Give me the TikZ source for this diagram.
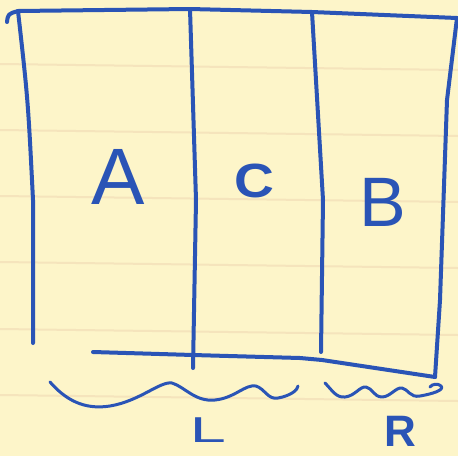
\documentclass[tikz,border=0pt]{standalone}
\usepackage{fontspec}
\setmainfont{Liberation Sans}
\definecolor{paper}{RGB}{253,245,201}
\definecolor{rule}{RGB}{245,228,188}
\definecolor{ink}{RGB}{42,84,182}
\begin{document}
\begin{tikzpicture}[x=1pt,y=-1pt,
  pen/.style={draw=ink,line width=4pt,line cap=round,line join=round},
  thinpen/.style={draw=ink,line width=3pt,line cap=round,line join=round},
  lbl/.style={text=ink,inner sep=0pt,anchor=center}]
\fill[paper] (0,0) rectangle (458,456);
\useasboundingbox (0,0) rectangle (458,456);
\foreach \yy in {64,130,196,262,329,395} \draw[rule,line width=2pt] (0,\yy) -- (458,\yy+6);
% frame
\draw[pen] (7,22) .. controls (8,14) .. (18,11) -- (190,9) -- (312,12) -- (457,18);
\draw[pen] (18,11) .. controls (28,100) .. (33,200) -- (33,343);
\draw[pen] (190,9) -- (196,200) -- (193,368);
\draw[pen] (312,12) -- (323,200) -- (321,352);
\draw[pen] (457,18) -- (447,100) -- (440,300) -- (435,377);
\draw[pen] (93,352) -- (193,355) -- (300,358) -- (322,360) -- (435,377);
% braces
\draw[thinpen] (50,382) .. controls (70,405) and (90,409) .. (110,406)
  .. controls (140,401) and (160,381) .. (172,383)
  .. controls (185,387) and (195,402) .. (215,400)
  .. controls (235,398) and (245,384) .. (256,386)
  .. controls (265,389) and (268,400) .. (278,398)
  .. controls (290,396) and (298,390) .. (298,386);
\draw[thinpen] (325,383) .. controls (332,390) and (336,398) .. (345,397)
  .. controls (355,396) and (360,386) .. (366,387)
  .. controls (372,388) and (374,397) .. (382,397)
  .. controls (390,397) and (396,387) .. (402,388)
  .. controls (408,389) and (410,398) .. (420,396)
  .. controls (432,394) and (445,390) .. (441,386)
  .. controls (438,383) and (432,384) .. (430,387);
% labels
\node[lbl,font=\fontsize{80}{80}\selectfont] (A) at (118,177) {A};
\node[lbl,font=\bfseries\fontsize{48}{48}\selectfont,xscale=1.15] (C) at (254,181) {C};
\node[lbl,font=\fontsize{70}{70}\selectfont] (B) at (383,202) {B};
\node[lbl,font=\fontsize{36}{36}\selectfont,xscale=1.8] (L) at (208,430) {L};
\node[lbl,font=\bfseries\fontsize{44}{44}\selectfont] (R) at (400,431) {R};
\end{tikzpicture}
\end{document}
